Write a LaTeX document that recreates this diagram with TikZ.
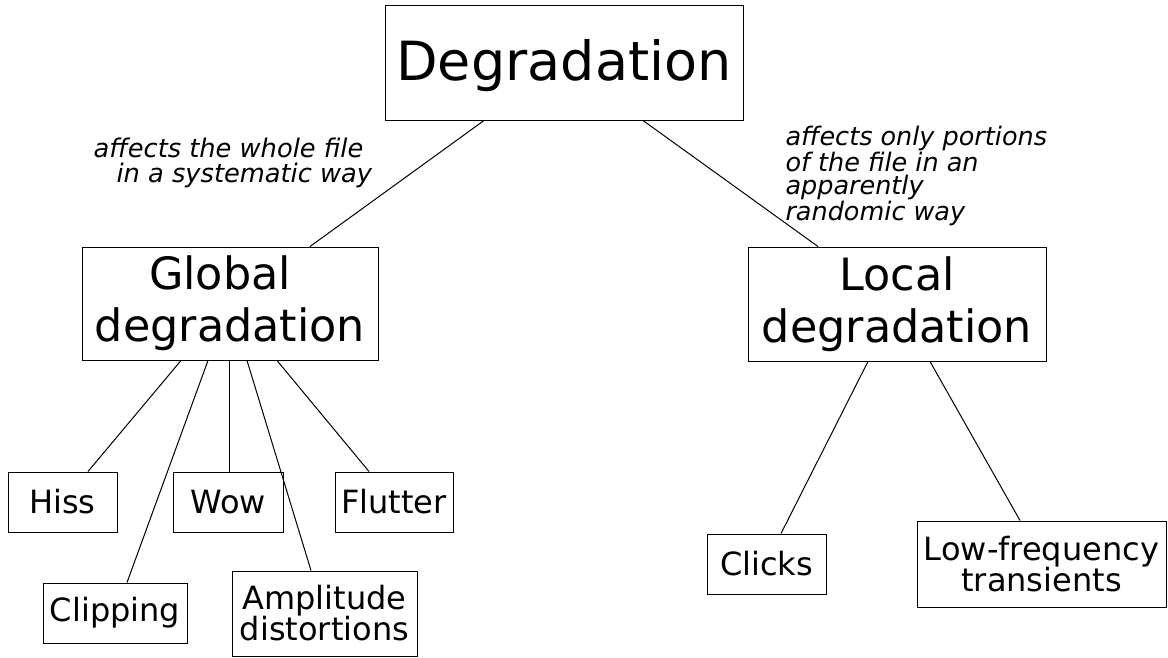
\documentclass[tikz,border=0pt]{standalone}
\usepackage{fontspec}
\setmainfont{DejaVu Sans}
\usetikzlibrary{calc}
\begin{document}
\begin{tikzpicture}[x=1pt,y=-1pt,line width=1pt,
  box/.style={draw,inner sep=0pt,align=center},
  topbox/.style={box,font=\fontsize{54}{60}\selectfont},
  midbox/.style={box,font=\fontsize{44.5}{52}\selectfont},
  leafbox/.style={box,font=\fontsize{32}{31}\selectfont},
  note/.style={inner sep=0pt,align=left,anchor=north west}]
\useasboundingbox (0,0) rectangle (1168,657);
% main nodes
\node[topbox,minimum width=358pt,minimum height=115pt,text height=49pt,text depth=13pt] (deg) at (564,62.5) {Degradation};
\node[midbox,minimum width=296pt,minimum height=113pt] (glob) at (230,303.5) {Global\hspace*{20pt}\\degradation};
\node[midbox,minimum width=298pt,minimum height=114pt] (loc) at (897,304) {Local\\degradation};
% leaves of global
\node[leafbox,minimum width=109pt,minimum height=60pt] (hiss) at (62.5,502) {Hiss};
\node[leafbox,minimum width=110pt,minimum height=60pt] (wow) at (228,502) {Wow};
\node[leafbox,minimum width=118pt,minimum height=60pt] (flut) at (394,502) {Flutter};
\node[leafbox,minimum width=144pt,minimum height=60pt] (clip) at (115,613) {Clipping};
\node[leafbox,minimum width=185pt,minimum height=85pt] (ampl) at (324.5,613.5) {Amplitude\\distortions};
% leaves of local
\node[leafbox,minimum width=119pt,minimum height=60pt] (click) at (766.5,564) {Clicks};
\node[leafbox,minimum width=249pt,minimum height=86pt] (lowf) at (1041.5,564) {Low-frequency\\transients};
% annotations
\node[note,font=\itshape\fontsize{25.7}{25}\selectfont] (n1) at (93,137.5)
  {affects the whole file\\\hspace*{23pt}in a systematic way};
\node[note,font=\itshape\fontsize{25.5}{23.3}\selectfont] (n2) at (785,125.6)
  {affects only portions\\of the file in an\\apparently\\randomic way};
% connectors
\draw ([xshift=-80pt]deg.south) -- ([xshift=80pt]glob.north);
\draw ([xshift=79pt]deg.south) -- ([xshift=-79pt]loc.north);
\draw ([xshift=-49pt]glob.south) -- ([xshift=25.5pt]hiss.north);
\draw ([xshift=-22pt]glob.south) -- ([xshift=12pt]clip.north);
\draw ([xshift=-1pt]glob.south) -- ([xshift=1pt]wow.north);
\draw ([xshift=17pt]glob.south) -- ([xshift=-13.5pt]ampl.north);
\draw ([xshift=47pt]glob.south) -- ([xshift=-25pt]flut.north);
\draw ([xshift=-29pt]loc.south) -- ([xshift=14.5pt]click.north);
\draw ([xshift=33pt]loc.south) -- ([xshift=-21.5pt]lowf.north);
\end{tikzpicture}
\end{document}
